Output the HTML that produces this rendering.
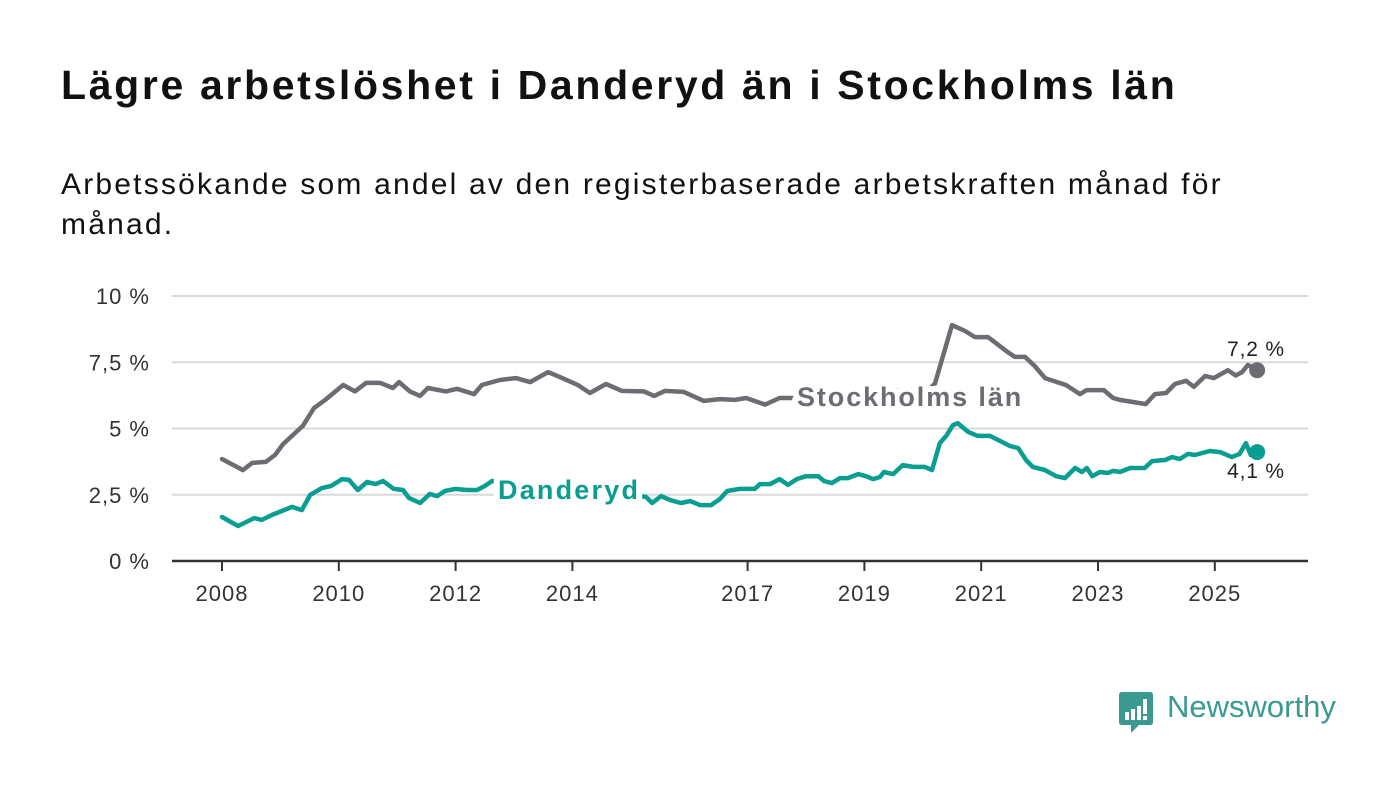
<!DOCTYPE html>
<html><head><meta charset="utf-8">
<style>
body{margin:0;background:#fff;font-family:"Liberation Sans",sans-serif;}
#wrap{position:relative;width:1400px;height:794px;overflow:hidden;}
h1{position:absolute;left:61px;top:62px;margin:0;font-size:41px;font-weight:bold;color:#111;letter-spacing:2.65px;white-space:nowrap;}
p.sub{position:absolute;left:61px;top:165px;margin:0;font-size:30px;line-height:40px;color:#111;width:1300px;letter-spacing:2.2px;}
</style></head><body>
<div id="wrap">
<h1>Lägre arbetslöshet i Danderyd än i Stockholms län</h1>
<p class="sub">Arbetssökande som andel av den registerbaserade arbetskraften månad för<br>månad.</p>
<svg id="chart" width="1400" height="794" style="position:absolute;left:0;top:0"></svg>
<div style="position:absolute;left:1119px;top:692px;">
<svg width="36" height="42"><path d="M3 0H31Q34 0 34 3V30Q34 33 31 33H20L12 41V33H3Q0 33 0 30V3Q0 0 3 0Z" fill="#3a9a8f"/><rect x="6" y="20" width="4" height="8" fill="#fff"/><rect x="12" y="17" width="4" height="11" fill="#fff"/><rect x="18" y="14" width="4" height="14" fill="#fff"/><rect x="24" y="7" width="4" height="15" fill="#fff"/><rect x="24" y="24" width="4" height="4" fill="#fff"/></svg>
<span style="position:absolute;left:48px;top:-3px;font-size:31px;color:#3a9a8f;white-space:nowrap;">Newsworthy</span>
</div>
</div>
<script>
const yTicks=[0,2.5,5,7.5,10];
const yTickLabels=["0 %","2,5 %","5 %","7,5 %","10 %"];
const xTickYears=[2008,2010,2012,2014,2017,2019,2021,2023,2025];
// months since Jan 2008
const stockMonths=[0,4.3,6.2,9,10.9,12.5,16.6,18.9,21.2,24.9,27.3,29.6,32.5,35.1,36.4,38.6,40.7,42.3,46,48.3,51.8,53.4,57.1,60.4,63.3,67,69.9,73.1,75.6,78.9,82.2,86.7,88.8,91,94.9,99,102.3,105.4,107.7,111.6,114.6,117.3,124.9,132.3,138.3,144.4,146.5,148.8,150,152.7,154.7,157.4,161.3,162.9,165,167,169.1,171.6,173.4,176.3,177.7,181.2,183.1,184.5,189.8,191.7,194,195.8,198.1,199.7,202,203.8,206.7,208.3,209.6,210.8,212.7];
const stockValues=[3.85,3.43,3.7,3.74,4.0,4.4,5.1,5.77,6.08,6.64,6.4,6.72,6.72,6.53,6.75,6.4,6.23,6.53,6.4,6.5,6.3,6.64,6.83,6.9,6.75,7.13,6.9,6.64,6.34,6.68,6.42,6.4,6.23,6.42,6.38,6.04,6.11,6.08,6.15,5.9,6.15,6.15,6.2,6.38,6.45,6.3,6.7,8.15,8.9,8.68,8.45,8.45,7.9,7.7,7.7,7.36,6.9,6.75,6.64,6.3,6.45,6.45,6.15,6.08,5.92,6.3,6.34,6.68,6.8,6.57,6.98,6.9,7.2,7.0,7.13,7.4,7.2];
const dandMonths=[0,3.3,6.6,8.2,10.3,14.4,16.4,18.1,20.5,22.4,24.7,26.1,27.9,29.8,31.6,33.1,35.3,37.2,38.4,40.7,42.7,44.2,45.8,47.9,50.3,52.4,54,55.5,69.4,77.7,83.8,87.1,88.4,90.2,92.1,94.3,96.2,98.2,100.5,102.3,103.8,106.4,109.5,110.5,112.6,114.6,116.3,118.1,120,122.5,123.7,125.3,127,128.6,130.7,132.3,133.8,135.2,136,137.9,139.9,142,144.4,145.9,147.5,148.8,150.2,151.2,153.3,155.3,157.8,159.9,161.9,163.6,165.2,166.6,169.1,171.4,173.2,175.3,176.7,177.7,178.8,180.4,182,183.1,184.5,186.6,189.6,191.1,193.8,195.2,196.8,198.5,199.9,203,205.1,207.5,209.1,210.4,211.4,212.7];
const dandValues=[1.66,1.32,1.62,1.55,1.74,2.04,1.92,2.49,2.75,2.83,3.09,3.06,2.68,2.98,2.9,3.02,2.72,2.68,2.38,2.19,2.53,2.45,2.64,2.72,2.68,2.68,2.83,3.02,2.8,2.65,2.5,2.42,2.19,2.45,2.3,2.19,2.26,2.11,2.11,2.34,2.64,2.72,2.72,2.9,2.9,3.09,2.87,3.09,3.2,3.2,3.02,2.94,3.13,3.13,3.28,3.2,3.09,3.17,3.36,3.28,3.62,3.55,3.55,3.43,4.45,4.72,5.13,5.2,4.87,4.72,4.72,4.53,4.34,4.26,3.81,3.55,3.43,3.2,3.13,3.51,3.36,3.51,3.2,3.36,3.32,3.4,3.36,3.51,3.51,3.77,3.81,3.92,3.85,4.04,4.0,4.15,4.11,3.92,4.04,4.45,4.0,4.11];

const NS="http://www.w3.org/2000/svg";
const svg=document.getElementById('chart');
const X=m=>222+m*58.4/12;
const Y=v=>561-v*26.5;
function mk(tag,attrs,parent){const e=document.createElementNS(NS,tag);for(const k in attrs)e.setAttribute(k,attrs[k]);(parent||svg).appendChild(e);return e;}
yTicks.forEach((t,i)=>{
  if(t>0){const g=mk('line',{x1:172,x2:1308,y1:Y(t),y2:Y(t),stroke:'#d9d9d9','stroke-width':2});
  
  }
  const l=mk('text',{x:150,y:Y(t)+8,'text-anchor':'end','font-size':22,'letter-spacing':1,fill:'#333','font-family':'Liberation Sans, sans-serif'});
  l.textContent=yTickLabels[i];
  
  
});
const ax=mk('line',{x1:172,x2:1308,y1:561,y2:561,stroke:'#333','stroke-width':2.5});


xTickYears.forEach(yr=>{
  const x=X((yr-2008)*12);
  const t=mk('line',{x1:x,x2:x,y1:561,y2:571,stroke:'#333','stroke-width':2});
  
  
  const l=mk('text',{x:x,y:601,'text-anchor':'middle','font-size':22,'letter-spacing':1,fill:'#333','font-family':'Liberation Sans, sans-serif'});
  l.textContent=yr;
  
  
});
function series(ms,vs,color,name){
  const d=ms.map((m,i)=>(i?'L':'M')+X(m).toFixed(1)+' '+Y(vs[i]).toFixed(1)).join(' ');
  const p=mk('path',{d:d,fill:'none',stroke:color,'stroke-width':4.5,'stroke-linejoin':'round','stroke-linecap':'round'});
  
  
  const n=ms.length-1;
  const c=mk('circle',{cx:X(ms[n]),cy:Y(vs[n]),r:8,fill:color});
  
  
}
series(stockMonths,stockValues,'#6e6c72','stockholm-line');
series(dandMonths,dandValues,'#0a9e93','danderyd-line');
function lbl(x,y,txt,color,name,ls){
  const t=mk('text',{x:x,y:y,'font-size':27,'font-weight':'bold','letter-spacing':ls,fill:color,stroke:'#fff','stroke-width':12,'paint-order':'stroke','stroke-linejoin':'round','font-family':'Liberation Sans, sans-serif'});
  t.textContent=txt;
  
  
}
lbl(797,406,'Stockholms län','#6e6c72','stockholm-label',1.9);
lbl(498,499,'Danderyd','#0a9e93','danderyd-label',2.2);
function val(x,y,txt,name){
  const t=mk('text',{x:x,y:y,'text-anchor':'middle','font-size':21,'letter-spacing':0.8,fill:'#222','font-family':'Liberation Sans, sans-serif'});
  t.textContent=txt;
  
  
}
val(1256,356,'7,2 %','stockholm-end-value');
val(1256,478,'4,1 %','danderyd-end-value');
</script>
</body></html>
